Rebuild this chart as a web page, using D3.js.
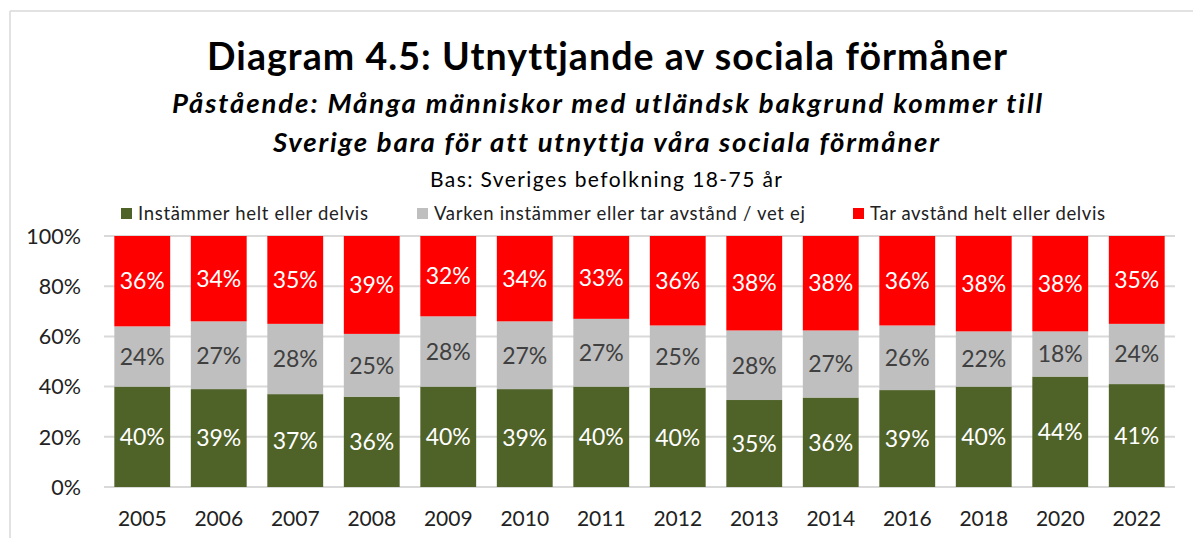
<!DOCTYPE html>
<html>
<head>
<meta charset="utf-8">
<script src="https://cdn.jsdelivr.net/npm/d3@7"></script>
<style>
  body { margin: 0; background: #fff; }
  svg { font-family: Lato, "Open Sans", sans-serif; font-variant-ligatures: none; }
</style>
</head>
<body>
<script>
// data
var years = ["2005","2006","2007","2008","2009","2010","2011","2012","2013","2014","2016","2018","2020","2022"];
var instammer = [40,39,37,36,40,39,40,40,35,36,39,40,44,41];
var varken = [24,27,28,25,28,27,27,25,28,27,26,22,18,24];
var tarAvstand = [36,34,35,39,32,34,33,36,38,38,36,38,38,35];
var yTicks = [0,20,40,60,80,100];
var seriesNames = ["Instämmer helt eller delvis", "Varken instämmer eller tar avstånd / vet ej", "Tar avstånd helt eller delvis"];
var seriesColors = ["#4f6228", "#bfbfbf", "#ff0000"];
var labelColors = ["#ffffff", "#404040", "#ffffff"];

var width = 1193, height = 538;
var svg = d3.select("body").append("svg")
            .attr("width", width)
            .attr("height", height);

// frame of the embedded chart
svg.append("line").attr("x1", 10).attr("x2", width).attr("y1", 11).attr("y2", 11)
   .attr("stroke", "#d9d9d9").attr("stroke-width", 1.5);
svg.append("line").attr("x1", 10).attr("x2", 10).attr("y1", 11).attr("y2", height)
   .attr("stroke", "#d9d9d9").attr("stroke-width", 1.5);

// titles (textLength used to get Calibri-like widths)
svg.append("text").attr("x", 607).attr("y", 70).attr("text-anchor", "middle")
   .attr("font-size", 37.5).attr("font-weight", "bold").attr("fill", "#000")
   .attr("textLength", 800).attr("lengthAdjust", "spacing")
   .text("Diagram 4.5: Utnyttjande av sociala förmåner");
svg.append("text").attr("x", 607).attr("y", 113).attr("text-anchor", "middle")
   .attr("font-size", 27.5).attr("font-weight", "bold").attr("font-style", "italic")
   .attr("textLength", 870).attr("lengthAdjust", "spacing")
   .text("Påstående: Många människor med utländsk bakgrund kommer till");
svg.append("text").attr("x", 606).attr("y", 152).attr("text-anchor", "middle")
   .attr("font-size", 27.5).attr("font-weight", "bold").attr("font-style", "italic")
   .attr("textLength", 666).attr("lengthAdjust", "spacing")
   .text("Sverige bara för att utnyttja våra sociala förmåner");
svg.append("text").attr("x", 606).attr("y", 187).attr("text-anchor", "middle")
   .attr("font-size", 21).attr("fill", "#000")
   .attr("textLength", 352).attr("lengthAdjust", "spacing")
   .text("Bas: Sveriges befolkning 18-75 år");

// legend
var legendX = [121, 417, 853];
var legendLen = [230, 371, 235];
var legend = svg.selectAll("g.legend")
                .data(seriesNames)
                .enter()
                .append("g")
                .attr("class", "legend")
                .attr("transform", function(d, i) { return "translate(" + legendX[i] + ",208)"; });
legend.append("rect").attr("width", 11).attr("height", 11)
      .attr("fill", function(d, i) { return seriesColors[i]; });
legend.append("text").attr("x", 17).attr("y", 12).attr("font-size", 18.5).attr("fill", "#222")
      .attr("textLength", function(d, i) { return legendLen[i]; }).attr("lengthAdjust", "spacing")
      .text(function(d) { return d; });

// scales
var x = d3.scaleBand().domain(years).range([104, 1175]).paddingInner(0.27).paddingOuter(0.135);
var y = d3.scaleLinear().domain([0, 100]).range([487, 236]);

// gridlines
svg.append("g").selectAll("line")
   .data(yTicks)
   .enter()
   .append("line")
   .attr("x1", 104).attr("x2", 1175)
   .attr("y1", function(d) { return y(d); }).attr("y2", function(d) { return y(d); })
   .attr("stroke", "#d9d9d9").attr("stroke-width", 2);

// stacked data (100% stacked, so normalise the rounded numbers)
var rows = years.map(function(yr, i) {
    var tot = instammer[i] + varken[i] + tarAvstand[i];
    return { year: yr, s0: instammer[i] / tot * 100, s1: varken[i] / tot * 100, s2: tarAvstand[i] / tot * 100,
             v: [instammer[i], varken[i], tarAvstand[i]] };
});
var stack = d3.stack().keys(["s0", "s1", "s2"]);
var stacked = stack(rows);

var groups = svg.selectAll("g.series")
                .data(stacked)
                .enter()
                .append("g")
                .attr("class", "series");

groups.selectAll("rect")
      .data(function(d) { return d; })
      .enter()
      .append("rect")
      .attr("x", function(d) { return x(d.data.year); })
      .attr("width", x.bandwidth())
      .attr("y", function(d) { return y(d[1]); })
      .attr("height", function(d) { return y(d[0]) - y(d[1]); })
      .attr("fill", function(d) { return seriesColors[d3.select(this.parentNode).datum().index]; });

groups.each(function(s) {
    d3.select(this).selectAll("text")
      .data(s)
      .enter()
      .append("text")
      .attr("x", function(d) { return x(d.data.year) + x.bandwidth() / 2; })
      .attr("y", function(d) { return (y(d[0]) + y(d[1])) / 2; })
      .attr("dy", "0.36em")
      .attr("text-anchor", "middle")
      .attr("font-size", 23)
      .attr("fill", labelColors[s.index])
      .text(function(d) { return d.data.v[s.index] + "%"; });
});

// y axis labels
svg.append("g").selectAll("text")
   .data(yTicks)
   .enter()
   .append("text")
   .attr("x", 81)
   .attr("y", function(d) { return y(d); })
   .attr("dy", "0.36em")
   .attr("text-anchor", "end")
   .attr("font-size", 21.5)
   .attr("fill", "#222")
   .text(function(d) { return d + "%"; });

// x axis labels
svg.append("g").selectAll("text")
   .data(years)
   .enter()
   .append("text")
   .attr("x", function(d) { return x(d) + x.bandwidth() / 2; })
   .attr("y", 526)
   .attr("text-anchor", "middle")
   .attr("font-size", 21)
   .attr("fill", "#222")
   .text(function(d) { return d; });
</script>
</body>
</html>
